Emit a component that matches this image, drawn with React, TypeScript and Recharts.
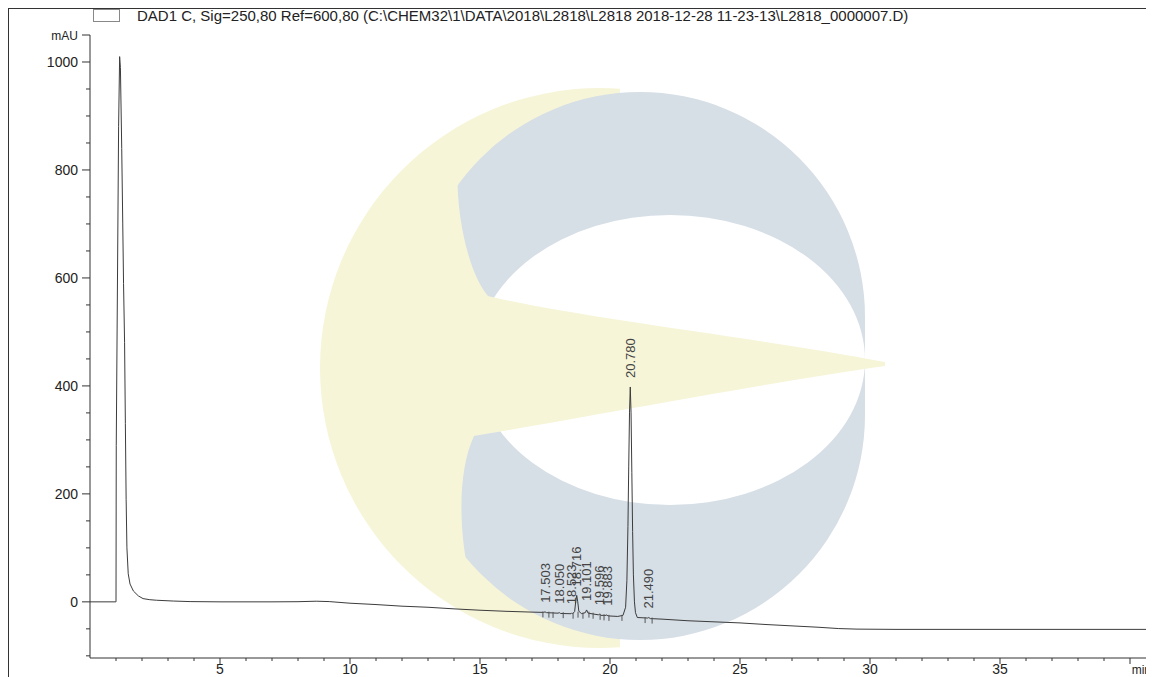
import React from 'react'
import { ComposedChart, Line, Scatter, XAxis, YAxis } from 'recharts'

// DAD1 C trace, time in min, signal in mAU
const times = [
  0, 0.99, 1.0, 1.01, 1.1, 1.14, 1.17, 1.22, 1.26, 1.29, 1.33, 1.36, 1.39, 1.42, 1.47, 1.54, 1.67, 1.86,
  2.04, 2.3, 2.56, 3.2, 3.85, 5, 6, 7, 8, 8.7, 9.2, 10, 11, 12, 13, 14, 15, 16, 17, 17.45, 17.5, 17.56,
  18.0, 18.05, 18.1, 18.5, 18.52, 18.56, 18.64, 18.68, 18.72, 18.76, 18.8, 18.9, 19.05, 19.1, 19.16,
  19.55, 19.6, 19.65, 19.85, 19.88, 19.92, 20.3, 20.5, 20.6, 20.65, 20.69, 20.72, 20.75, 20.78, 20.81,
  20.84, 20.87, 20.9, 20.94, 20.98, 21.05, 21.45, 21.49, 21.55, 22, 23, 24, 25, 26, 27, 28, 28.8, 29.5,
  31, 35, 41,
]
const signal = [
  0, 0, 0, 290, 880, 1010, 990, 840, 700, 590, 480, 330, 190, 100, 52, 33, 20, 11,
  6, 4, 3, 1.5, 0.5, 0, 0, 0, 0.3, 1.2, 0.5, -2.5, -5, -8, -10, -13, -15.5, -17.5, -19, -19.5, -18.5, -20,
  -21, -20, -21.5, -22, -21, -22, -18, 0, 12, 0, -17, -22, -20, -15, -21,
  -24, -23, -25, -25, -24, -26, -27, -25, -10, 40, 140, 250, 350, 398, 350,
  240, 130, 50, 0, -20, -29, -30, -29, -31, -32, -35, -37, -39, -42, -44.5, -47, -49.5, -50.5,
  -51, -51, -51,
]

const peakTimes = [17.503, 18.05, 18.523, 18.716, 19.101, 19.596, 19.883, 20.78, 21.49]
const peakApex = [-18.5, -20, -21, 12, -15, -23, -24, 398, -29]

// integration marks under the baseline
const markTimes = [17.42, 17.65, 17.81, 18.2, 18.58, 18.77, 18.96, 19.19, 19.35, 19.62, 19.77, 19.96, 20.46, 21.35, 21.62]
const markValues = [-19.5, -20, -20.5, -21, -22, -20, -22, -20, -22, -24, -25, -26, -26, -30, -31]

const xTicks = [
  1, 2, 3, 4, 5, 6, 7, 8, 9, 10, 11, 12, 13, 14, 15, 16, 17, 18, 19, 20,
  21, 22, 23, 24, 25, 26, 27, 28, 29, 30, 31, 32, 33, 34, 35, 36, 37, 38, 39, 40,
]
const xLabels = [5, 10, 15, 20, 25, 30, 35]
const yTicks = [
  -100, -50, 0, 50, 100, 150, 200, 250, 300, 350, 400, 450, 500, 550, 600, 650, 700, 750, 800, 850,
  900, 950, 1000, 1050,
]
const yLabels = [0, 200, 400, 600, 800, 1000]

const title =
  'DAD1 C, Sig=250,80 Ref=600,80 (C:\\CHEM32\\1\\DATA\\2018\\L2818\\L2818 2018-12-28 11-23-13\\L2818_0000007.D)'

const trace = times.map((t, i) => ({ t, v: signal[i] }))
const peaks = peakTimes.map((t, i) => ({ t, v: peakApex[i], label: t.toFixed(3) }))
const marks = markTimes.map((t, i) => ({ t, v: markValues[i] }))

const YTick = (props: any) => {
  const { x, y, payload } = props
  const v = payload.value
  const major = yLabels.includes(v)
  const top = v === 1050
  const len = major || top ? 8 : 4
  return (
    <g>
      <line x1={x - len} x2={x} y1={y} y2={y} stroke="#333" />
      {major && (
        <text x={x - 12} y={y} dy="0.35em" textAnchor="end" fontSize={14} fill="#222">
          {v}
        </text>
      )}
      {top && (
        <text x={x - 12} y={y + 1} dy="0.35em" textAnchor="end" fontSize={12} fill="#222">
          mAU
        </text>
      )}
    </g>
  )
}

const XTick = (props: any) => {
  const { x, y, payload } = props
  const v = payload.value
  const major = v % 5 === 0
  return (
    <g>
      <line x1={x} x2={x} y1={y} y2={y + (major ? 6 : 3)} stroke="#333" />
      {xLabels.includes(v) && (
        <text x={x} y={y + 16} textAnchor="middle" fontSize={14} fill="#222">
          {v}
        </text>
      )}
      {v === 40 && (
        <text x={x + 21} y={y + 16} textAnchor="end" fontSize={12} fill="#222">
          min
        </text>
      )}
    </g>
  )
}

const PeakLabel = (props: any) => {
  const { cx, cy, payload } = props
  const ty = cy - 9
  return (
    <text
      x={cx}
      y={ty}
      dy="0.35em"
      transform={`rotate(-90 ${cx} ${ty})`}
      fontSize={13}
      fill="#444"
    >
      {payload.label}
    </text>
  )
}

const Mark = (props: any) => {
  const { cx, cy } = props
  return <line x1={cx} x2={cx} y1={cy - 1} y2={cy + 5} stroke="#555" />
}

// faint logo behind the trace (page coords, shifted by the 9px frame offset)
const Watermark = () => (
  <svg width={1146} height={669} style={{ position: 'absolute', left: 0, top: 0 }}>
    <defs>
      <clipPath id="wm-clip">
        <rect x={0} y={0} width={620} height={700} />
      </clipPath>
    </defs>
    <g transform="translate(-9,-9)">
      <circle cx={600} cy={368} r={280} fill="#f6f5d8" clipPath="url(#wm-clip)" />
      <path
        d="M 415 317 A 225 225 0 0 1 865 317 L 865 415 A 225 225 0 0 1 415 415 Z"
        fill="#d6dee6"
      />
      <ellipse cx={670} cy={360} rx={195} ry={145} fill="#ffffff" />
      <path
        d="M 885 362 C 760 338 580 318 488 296 C 466 270 455 205 458 165 L 440 140 A 280 280 0 0 0 440 596 L 470 580 C 458 530 458 470 474 436 C 580 418 760 384 885 366 Z"
        fill="#f6f5d8"
      />
    </g>
  </svg>
)

export default function App() {
  return (
    <div
      style={{
        position: 'relative',
        width: 1146,
        height: 669,
        overflow: 'hidden',
        borderTop: '1px solid #333',
        borderLeft: '1px solid #333',
        boxSizing: 'border-box',
        fontFamily: '"Liberation Sans", Arial, sans-serif',
        background: '#fff',
      }}
    >
      <Watermark />
      <div
        style={{
          position: 'absolute',
          left: 84,
          top: 0,
          width: 27,
          height: 13,
          border: '1px solid #888',
          boxSizing: 'border-box',
        }}
      />
      <div
        style={{
          position: 'absolute',
          left: 128,
          top: 0,
          fontSize: 15,
          lineHeight: '14px',
          color: '#222',
          whiteSpace: 'nowrap',
        }}
      >
        {title}
      </div>
      <div style={{ position: 'absolute', left: 0, top: 0 }}>
        <ComposedChart
          width={1157}
          height={679}
          data={trace}
          margin={{ top: 26, right: 10, bottom: 0, left: 0 }}
        >
          <XAxis
            type="number"
            dataKey="t"
            domain={[0, 41]}
            allowDataOverflow
            ticks={xTicks}
            interval={0}
            tick={<XTick />}
            tickLine={false}
            tickSize={0}
            tickMargin={0}
            axisLine={{ stroke: '#333' }}
            height={30}
          />
          <YAxis
            type="number"
            domain={[-104, 1050]}
            allowDataOverflow
            ticks={yTicks}
            interval={0}
            tick={<YTick />}
            tickLine={false}
            tickSize={0}
            tickMargin={0}
            axisLine={{ stroke: '#333' }}
            width={81}
          />
          <Line
            data={trace}
            dataKey="v"
            type="linear"
            stroke="#3c3c3c"
            strokeWidth={1}
            dot={false}
            isAnimationActive={false}
          />
          <Scatter data={marks} dataKey="v" shape={<Mark />} isAnimationActive={false} />
          <Scatter data={peaks} dataKey="v" shape={<PeakLabel />} isAnimationActive={false} />
        </ComposedChart>
      </div>
    </div>
  )
}
